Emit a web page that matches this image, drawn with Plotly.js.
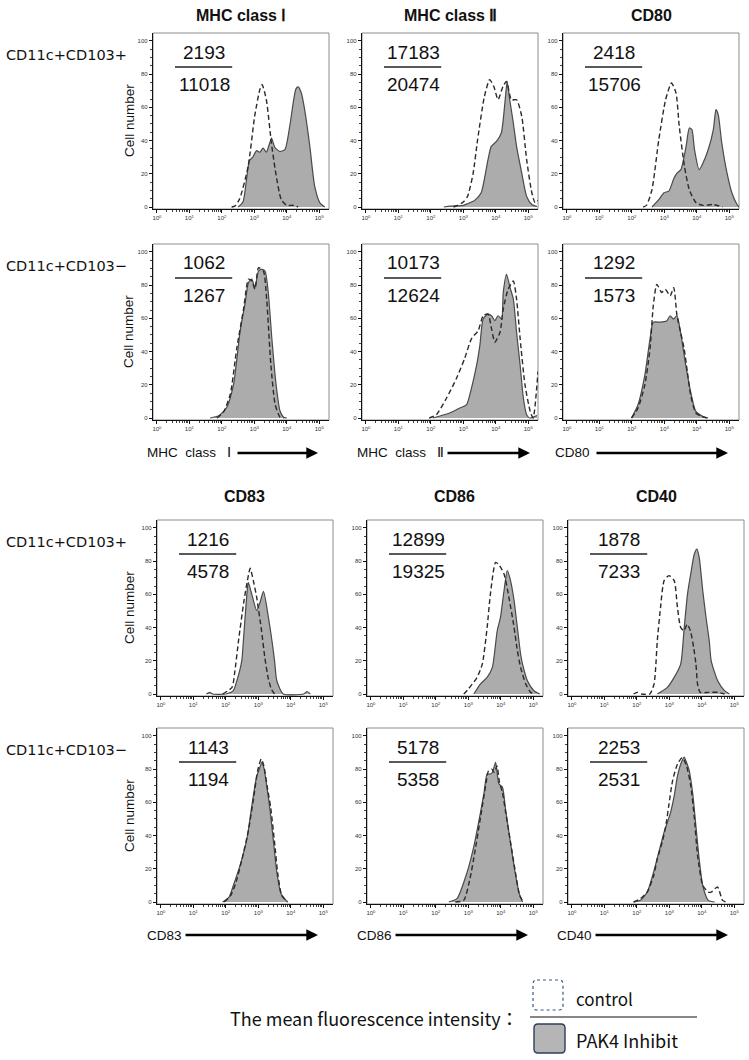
<!DOCTYPE html>
<html>
<head>
<meta charset="utf-8">
<script src="https://cdn.plot.ly/plotly-3.0.1.min.js"></script>
<style>
  html, body { margin: 0; padding: 0; background: #fff; }
  #chart { width: 749px; height: 1060px; }
</style>
</head>
<body>
<div id="chart"></div>
<script>
// Histogram curves: x = log10 of fluorescence intensity, y = cell number
// control = dashed line, PAK4 inhibit = grey filled area

// MHC class I, CD11c+CD103+
const mhc1PosCtrlX = [2.3, 2.4, 2.55, 2.81, 3.01, 3.17, 3.24, 3.37, 3.53, 3.66, 3.83, 4.0, 4.2, 4.35];
const mhc1PosCtrlY = [0, 0.5, 5, 24.5, 54.6, 70.7, 73.7, 64.6, 38, 20.5, 4.4, 1, 1, 0];
const mhc1PosPakX = [2.5, 2.65, 2.75, 2.85, 2.95, 3.07, 3.17, 3.27, 3.37, 3.45, 3.53, 3.63, 3.78, 3.94, 4.09, 4.2, 4.28, 4.35, 4.45, 4.55, 4.71, 4.86, 5.02, 5.17];
const mhc1PosPakY = [0, 3, 15, 28, 30, 34, 33, 35.5, 33, 37, 41.5, 36, 33.5, 34.5, 48.5, 63, 71, 72.3, 68.5, 58.6, 36.5, 12.4, 2.5, 0];

// MHC class II, CD11c+CD103+
const mhc2PosCtrlX = [2.7, 2.82, 3.0, 3.13, 3.3, 3.44, 3.65, 3.81, 3.94, 4.07, 4.22, 4.33, 4.48, 4.64, 4.8, 4.95, 5.11, 5.21, 5.3];
const mhc2PosCtrlY = [0, 1, 3, 6.4, 20, 40.5, 66.6, 76.7, 72.6, 64.6, 72.6, 75.6, 64.6, 64.6, 54.6, 28.5, 8.6, 2.6, 4];
const mhc2PosPakX = [2.4, 2.6, 3.0, 3.13, 3.35, 3.55, 3.76, 3.86, 4.02, 4.17, 4.28, 4.35, 4.43, 4.54, 4.64, 4.8, 4.95, 5.11, 5.27];
const mhc2PosPakY = [0, 0.5, 1, 2, 4, 8.6, 28.5, 36.5, 39.5, 44.6, 62.6, 75.6, 64.6, 50.6, 36.5, 20.4, 6.4, 1.5, 0.3];

// CD80, CD11c+CD103+
const cd80PosCtrlX = [2.35, 2.45, 2.62, 2.83, 3.04, 3.22, 3.36, 3.46, 3.62, 3.77, 3.98, 4.2, 4.5, 4.8];
const cd80PosCtrlY = [0, 1, 10.4, 40.5, 64.6, 74.7, 68.7, 48.6, 24.5, 10.4, 2.5, 1, 1.5, 0];
const cd80PosPakX = [2.62, 2.83, 2.99, 3.14, 3.3, 3.4, 3.51, 3.67, 3.77, 3.85, 3.93, 4.07, 4.19, 4.35, 4.51, 4.59, 4.66, 4.77, 4.93, 5.08, 5.24, 5.3];
const cd80PosPakY = [0, 4.4, 8.6, 9.6, 17.5, 20.5, 22.5, 36.5, 47.6, 46.6, 34.5, 22.5, 26.5, 34.5, 46.6, 58.6, 55.6, 38.5, 20.5, 8.6, 1.5, 0];

// MHC class I, CD11c+CD103-
const mhc1NegCtrlX = [1.85, 2.05, 2.26, 2.46, 2.67, 2.82, 2.92, 3.02, 3.13, 3.28, 3.38, 3.51, 3.64, 3.79, 3.9];
const mhc1NegCtrlY = [0, 3.5, 14.3, 42, 65.7, 83.6, 82.6, 77.6, 90.5, 88.5, 71.7, 32.1, 8.3, 0.5, 0];
const mhc1NegPakX = [1.64, 1.9, 2.15, 2.36, 2.56, 2.72, 2.82, 2.92, 3.02, 3.13, 3.23, 3.33, 3.43, 3.54, 3.67, 3.79, 3.9, 4.0];
const mhc1NegPakY = [0, 1.3, 6.3, 20.2, 51.9, 69.7, 81.6, 83.6, 78.6, 88.5, 89.5, 88.5, 75.6, 47.9, 20.2, 4.4, 0.5, 0];

// MHC class II, CD11c+CD103-
const mhc2NegCtrlX = [1.95, 2.17, 2.48, 2.79, 3.04, 3.25, 3.46, 3.61, 3.76, 3.87, 3.97, 4.13, 4.23, 4.38, 4.54, 4.64, 4.75, 4.9, 5.06, 5.15, 5.3];
const mhc2NegCtrlY = [0, 2, 11.9, 23.9, 35.8, 47.7, 52.7, 61.6, 62.6, 53.7, 45.7, 51.7, 65.6, 77.5, 82.5, 71.6, 47.7, 19.9, 4, 0, 28];
const mhc2NegPakX = [2.06, 2.58, 2.89, 3.1, 3.25, 3.41, 3.51, 3.61, 3.76, 3.87, 3.97, 4.07, 4.18, 4.23, 4.33, 4.44, 4.54, 4.64, 4.75, 4.85, 4.95, 5.05, 5.27];
const mhc2NegPakY = [0, 3, 6, 8, 17.9, 31.8, 43.7, 59.6, 62.6, 61.6, 58.6, 61.6, 59.6, 75.6, 86.5, 78.5, 71.6, 51.7, 31.8, 11.9, 2, 0, 1.5];

// CD80, CD11c+CD103-
const cd80NegCtrlX = [1.99, 2.19, 2.4, 2.56, 2.66, 2.77, 2.92, 3.03, 3.18, 3.29, 3.39, 3.5, 3.61, 3.71, 3.81, 3.97, 4.15, 4.3];
const cd80NegCtrlY = [0, 6, 19.9, 41.7, 67.6, 80.5, 75.6, 77.5, 73.6, 78.5, 61.6, 51.7, 41.7, 27.8, 13.9, 3, 1, 0];
const cd80NegPakX = [1.99, 2.19, 2.4, 2.56, 2.66, 2.87, 3.08, 3.18, 3.28, 3.39, 3.5, 3.66, 3.81, 3.97, 4.18, 4.35];
const cd80NegPakY = [0, 8, 25.8, 47.7, 57.7, 57.7, 58.6, 61.6, 59.6, 61.6, 51.7, 31.8, 15.9, 4, 1, 0];

// CD83, CD11c+CD103+
const cd83PosCtrlX = [1.9, 2.19, 2.28, 2.39, 2.55, 2.68, 2.75, 2.85, 2.95, 3.1, 3.2, 3.3, 3.4, 3.5];
const cd83PosCtrlY = [0, 4, 14, 32, 55, 70, 75.7, 68, 58.2, 38, 22, 10, 3, 0];
const cd83PosPakX = [1.4, 1.5, 1.6, 2.0, 2.23, 2.34, 2.49, 2.54, 2.64, 2.69, 2.8, 2.95, 3.05, 3.16, 3.31, 3.42, 3.5, 3.57, 3.77, 4.4, 4.5, 4.6];
const cd83PosPakY = [0, 1, 0, 0, 2, 8, 20, 32.1, 58.2, 67.2, 60, 50.2, 55, 61.8, 46.2, 32.1, 20, 8, 0, 0, 1.5, 0];

// CD86, CD11c+CD103+
const cd86PosCtrlX = [2.86, 3.0, 3.27, 3.43, 3.58, 3.68, 3.84, 3.94, 4.1, 4.25, 4.41, 4.51, 4.61, 4.77, 4.92, 5.05];
const cd86PosCtrlY = [0, 3, 10, 18, 40.1, 60.2, 79.3, 78, 72.3, 58.2, 40.1, 26.1, 16, 6, 1, 0];
const cd86PosPakX = [3.17, 3.37, 3.58, 3.74, 3.89, 3.99, 4.1, 4.2, 4.3, 4.41, 4.51, 4.61, 4.67, 4.82, 5.02, 5.2];
const cd86PosPakY = [0, 6, 10, 16, 38.1, 46.2, 62.2, 74.3, 68.3, 56.2, 40.1, 24.1, 18, 8, 2, 0];

// CD40, CD11c+CD103+
const cd40PosCtrlX = [1.9, 2.01, 2.15, 2.4, 2.53, 2.58, 2.63, 2.73, 2.84, 2.99, 3.15, 3.25, 3.35, 3.45, 3.55, 3.65, 3.75, 3.82, 3.87, 3.95, 4.2, 4.5, 4.7];
const cd40PosCtrlY = [0, 1, 0, 0, 6, 16, 32.1, 52.2, 68.3, 71.3, 68.3, 52.2, 40.1, 38, 42, 38, 28, 18, 6, 1, 1, 1, 0];
const cd40PosPakX = [2.63, 2.94, 3.15, 3.35, 3.46, 3.56, 3.66, 3.77, 3.85, 3.92, 4.03, 4.13, 4.23, 4.29, 4.49, 4.7, 4.85];
const cd40PosPakY = [0, 4, 10, 18, 40.1, 60.2, 72.3, 84.3, 87.3, 82.3, 62.2, 46.2, 32.1, 20, 8, 2, 0];

// CD83, CD11c+CD103-
const cd83NegCtrlX = [1.95, 2.15, 2.3, 2.5, 2.7, 2.85, 2.98, 3.09, 3.17, 3.27, 3.38, 3.5, 3.6, 3.72, 3.9];
const cd83NegCtrlY = [0, 4, 11, 26, 43.6, 62, 79, 86.1, 82, 70, 57, 36, 17, 4, 0];
const cd83NegPakX = [1.9, 2.1, 2.23, 2.44, 2.65, 2.8, 2.95, 3.03, 3.11, 3.18, 3.26, 3.36, 3.47, 3.57, 3.7, 3.9];
const cd83NegPakY = [0, 3, 9.9, 22.2, 38.1, 57.9, 75.8, 80, 84.1, 80, 69.8, 55.6, 35.7, 17.9, 5, 0];

// CD86, CD11c+CD103-
const cd86NegCtrlX = [2.6, 2.86, 3.05, 3.2, 3.4, 3.55, 3.62, 3.72, 3.8, 3.88, 3.96, 4.05, 4.15, 4.3, 4.45, 4.58, 4.7];
const cd86NegCtrlY = [0, 1, 14, 30, 54, 72, 79, 80, 78, 82, 72, 66, 54, 36, 18, 4, 0];
const cd86NegPakX = [2.4, 2.65, 2.96, 3.17, 3.37, 3.48, 3.58, 3.66, 3.74, 3.84, 3.94, 4.05, 4.15, 4.3, 4.46, 4.57, 4.67];
const cd86NegPakY = [0, 2, 17.7, 33.5, 53.4, 65.3, 77.2, 77, 78, 84.1, 71.2, 69.2, 55.4, 35.5, 15.7, 5, 0];

// CD40, CD11c+CD103-
const cd40NegCtrlX = [1.9, 2.11, 2.32, 2.52, 2.63, 2.78, 2.89, 2.99, 3.1, 3.25, 3.4, 3.53, 3.66, 3.77, 3.87, 4.03, 4.2, 4.29, 4.4, 4.49, 4.64, 4.75];
const cd40NegCtrlY = [0, 2, 6, 16, 26, 36, 45.6, 59, 73, 83, 87, 82, 70, 51, 28, 10, 6, 6, 8, 9, 1, 0];
const cd40NegPakX = [1.9, 2.11, 2.32, 2.52, 2.68, 2.84, 3.04, 3.15, 3.25, 3.35, 3.46, 3.53, 3.61, 3.72, 3.82, 3.92, 4.03, 4.2, 4.4];
const cd40NegPakY = [0, 1, 6, 18.3, 30.2, 42.1, 54, 63.9, 75.8, 83, 87.3, 84, 79.4, 65.5, 45.6, 25.8, 9.9, 1, 0];

// mean fluorescence intensity (control / PAK4 inhibit), panel order left→right, top→bottom
const ctrlMfi = [2193, 17183, 2418, 1062, 10173, 1292, 1216, 12899, 1878, 1143, 5178, 2253];
const pakMfi = [11018, 20474, 15706, 1267, 12624, 1573, 4578, 19325, 7233, 1194, 5358, 2531];

const markersTop = ['MHC class Ⅰ', 'MHC class Ⅱ', 'CD80'];
const markersBottom = ['CD83', 'CD86', 'CD40'];
const axisLabelsTop = ['MHC\u00a0 class\u00a0\u00a0 Ⅰ', 'MHC\u00a0 class\u00a0\u00a0 Ⅱ', 'CD80'];
const axisLabelsBottom = ['CD83', 'CD86', 'CD40'];
const subsetLabels = ['CD11c+CD103+', 'CD11c+CD103−'];
const xTickLabels = ['10<sup>0</sup>', '10<sup>1</sup>', '10<sup>2</sup>', '10<sup>3</sup>', '10<sup>4</sup>', '10<sup>5</sup>'];
const yTicks = [0, 20, 40, 60, 80, 100];

const series = [
  [mhc1PosCtrlX, mhc1PosCtrlY, mhc1PosPakX, mhc1PosPakY],
  [mhc2PosCtrlX, mhc2PosCtrlY, mhc2PosPakX, mhc2PosPakY],
  [cd80PosCtrlX, cd80PosCtrlY, cd80PosPakX, cd80PosPakY],
  [mhc1NegCtrlX, mhc1NegCtrlY, mhc1NegPakX, mhc1NegPakY],
  [mhc2NegCtrlX, mhc2NegCtrlY, mhc2NegPakX, mhc2NegPakY],
  [cd80NegCtrlX, cd80NegCtrlY, cd80NegPakX, cd80NegPakY],
  [cd83PosCtrlX, cd83PosCtrlY, cd83PosPakX, cd83PosPakY],
  [cd86PosCtrlX, cd86PosCtrlY, cd86PosPakX, cd86PosPakY],
  [cd40PosCtrlX, cd40PosCtrlY, cd40PosPakX, cd40PosPakY],
  [cd83NegCtrlX, cd83NegCtrlY, cd83NegPakX, cd83NegPakY],
  [cd86NegCtrlX, cd86NegCtrlY, cd86NegPakX, cd86NegPakY],
  [cd40NegCtrlX, cd40NegCtrlY, cd40NegPakX, cd40NegPakY]
];

// page geometry (pixels)
const W = 749, H = 1060;
const xp = p => p / W;
const yp = p => 1 - p / H;
const colLeft = [[153, 362, 563], [157, 367, 568]];
const rowTop = [33, 244, 520, 728];
const boxW = 176, boxH = 176;

const minorX = [];
for (let d = 0; d < 5; d++) for (let k = 2; k < 10; k++) minorX.push(d + Math.log10(k));

const data = [];
const layout = {
  width: W, height: H,
  margin: { l: 0, r: 0, t: 0, b: 0 },
  paper_bgcolor: '#fff', plot_bgcolor: '#fff',
  showlegend: false,
  font: { family: 'Liberation Sans, Arial, sans-serif', color: '#111' },
  annotations: [], shapes: []
};

function label(x, y, text, font, xanchor, extra) {
  return Object.assign({
    xref: 'paper', yref: 'paper', x: x, y: y, text: text, showarrow: false,
    xanchor: xanchor || 'center', yanchor: 'middle', font: font
  }, extra || {});
}

series.forEach((s, i) => {
  const block = Math.floor(i / 6);
  const row = block * 2 + Math.floor((i % 6) / 3);
  const col = i % 3;
  const n = i === 0 ? '' : String(i + 1);
  const left = colLeft[block][col];
  const top = rowTop[row];

  data.push({
    x: s[2], y: s[3], xaxis: 'x' + n, yaxis: 'y' + n,
    type: 'scatter', mode: 'lines', fill: 'tozeroy', fillcolor: '#acacac',
    line: { color: '#4a4a4a', width: 1.2, shape: 'spline', smoothing: 0.6 },
    hoverinfo: 'skip'
  });
  data.push({
    x: s[0], y: s[1], xaxis: 'x' + n, yaxis: 'y' + n,
    type: 'scatter', mode: 'lines',
    line: { color: '#2a2a2a', width: 1.4, dash: '5px,3px', shape: 'spline', smoothing: 0.6 },
    hoverinfo: 'skip'
  });

  layout['xaxis' + n] = {
    domain: [xp(left), xp(left + boxW)], anchor: 'y' + n,
    range: [-0.12, 5.3], showgrid: false, zeroline: false,
    tickvals: [0, 1, 2, 3, 4, 5], ticktext: xTickLabels,
    tickfont: { size: 6, color: '#333' },
    ticks: 'outside', ticklen: 3, tickcolor: '#111',
    showline: true, linecolor: '#111', linewidth: 1.2,
    minor: { tickvals: minorX, ticks: 'outside', ticklen: 2, tickcolor: '#444' },
    fixedrange: true
  };
  layout['yaxis' + n] = {
    domain: [yp(top + boxH), yp(top)], anchor: 'x' + n,
    range: [-1.2, 104.8], showgrid: false, zeroline: false,
    tickvals: yTicks, tickfont: { size: 6, color: '#333' },
    ticks: 'outside', ticklen: 3, tickcolor: '#111',
    showline: true, linecolor: '#111', linewidth: 1.2,
    minor: { dtick: 5, ticks: 'outside', ticklen: 2, tickcolor: '#444' },
    fixedrange: true
  };

  // grey frame
  layout.shapes.push({
    type: 'rect', xref: 'x' + n + ' domain', yref: 'y' + n + ' domain',
    x0: 0, x1: 1, y0: 0, y1: 1, line: { color: '#8c8c8c', width: 1 }, layer: 'below'
  });

  // MFI fraction: control over PAK4 inhibit
  const numFont = { size: 19, color: '#111' };
  layout.annotations.push({
    xref: 'x' + n + ' domain', yref: 'y' + n + ' domain', x: 0.29, y: 1 - 19 / boxH,
    xanchor: 'center', yanchor: 'middle',
    text: String(ctrlMfi[i]), showarrow: false, font: numFont
  });
  layout.annotations.push({
    xref: 'x' + n + ' domain', yref: 'y' + n + ' domain', x: 0.29, y: 1 - 51 / boxH,
    xanchor: 'center', yanchor: 'middle',
    text: String(pakMfi[i]), showarrow: false, font: numFont
  });
  layout.shapes.push({
    type: 'line', xref: 'x' + n + ' domain', yref: 'y' + n + ' domain',
    x0: 0.125, x1: 0.45, y0: 1 - 34 / boxH, y1: 1 - 34 / boxH,
    line: { color: '#222', width: 1.5 }
  });

  if (col === 0) {
    layout.annotations.push(label(xp(129), yp(top + 88), 'Cell number',
      { size: 13.5, color: '#111' }, 'center', { textangle: -90 }));
    layout.annotations.push(label(xp(4), yp(top + 22), subsetLabels[row % 2],
      { family: 'DejaVu Sans', size: 14.5, color: '#111' }, 'left'));
  }
});

// column headers
const headerY = [15, 497];
[markersTop, markersBottom].forEach((names, b) => {
  names.forEach((name, c) => {
    layout.annotations.push(label(xp(colLeft[b][c] + boxW / 2), yp(headerY[b]), '<b>' + name + '</b>',
      { family: 'Liberation Sans, Arial', size: 16, color: '#111' }));
  });
});

// axis arrows under each lower row
const arrowY = [453, 935];
const labelStart = [[145, 355, 553], [145, 355, 555]];
const arrowTail = [[236, 446, 595], [184, 394, 594]];
const arrowTip = [[318, 530, 728], [318, 528, 728]];
[axisLabelsTop, axisLabelsBottom].forEach((names, b) => {
  names.forEach((name, c) => {
    layout.annotations.push(label(xp(labelStart[b][c]), yp(arrowY[b]), name,
      { size: 13.5, color: '#111' }, 'left'));
    layout.annotations.push({
      xref: 'paper', yref: 'paper', x: xp(arrowTip[b][c]), y: yp(arrowY[b]),
      text: '', showarrow: true, arrowhead: 2, arrowsize: 0.9, arrowwidth: 2.6, arrowcolor: '#000',
      ax: arrowTail[b][c] - arrowTip[b][c], ay: 0
    });
  });
});

// legend key at bottom
function roundRect(x0, y0, x1, y1, r) {
  const X = v => xp(v).toFixed(5), Y = v => yp(v).toFixed(5);
  return 'M' + X(x0 + r) + ',' + Y(y0) + ' L' + X(x1 - r) + ',' + Y(y0) +
    ' Q' + X(x1) + ',' + Y(y0) + ' ' + X(x1) + ',' + Y(y0 + r) +
    ' L' + X(x1) + ',' + Y(y1 - r) + ' Q' + X(x1) + ',' + Y(y1) + ' ' + X(x1 - r) + ',' + Y(y1) +
    ' L' + X(x0 + r) + ',' + Y(y1) + ' Q' + X(x0) + ',' + Y(y1) + ' ' + X(x0) + ',' + Y(y1 - r) +
    ' L' + X(x0) + ',' + Y(y0 + r) + ' Q' + X(x0) + ',' + Y(y0) + ' ' + X(x0 + r) + ',' + Y(y0) + ' Z';
}
layout.shapes.push({
  type: 'path', xref: 'paper', yref: 'paper', path: roundRect(533, 980, 563, 1010, 4),
  line: { color: '#3b5786', width: 1.2, dash: 'dot' }
});
layout.shapes.push({
  type: 'path', xref: 'paper', yref: 'paper', path: roundRect(534, 1024, 565, 1053, 4),
  fillcolor: '#b5b5b5', line: { color: '#2c3e5e', width: 1.4 }
});
layout.shapes.push({
  type: 'line', xref: 'paper', yref: 'paper', x0: xp(530), x1: xp(697), y0: yp(1017), y1: yp(1017),
  line: { color: '#111', width: 1.2 }
});
layout.annotations.push(label(xp(521), yp(1018), 'The mean fluorescence intensity：',
  { family: 'Noto Sans CJK JP', size: 18, color: '#111' }, 'right'));
layout.annotations.push(label(xp(574), yp(998), 'control',
  { family: 'Noto Sans CJK JP', size: 17, color: '#111' }, 'left'));
layout.annotations.push(label(xp(574), yp(1040), 'PAK4 Inhibit',
  { family: 'Noto Sans CJK JP', size: 18, color: '#111' }, 'left'));

Plotly.newPlot('chart', data, layout, { staticPlot: true });
</script>
</body>
</html>
